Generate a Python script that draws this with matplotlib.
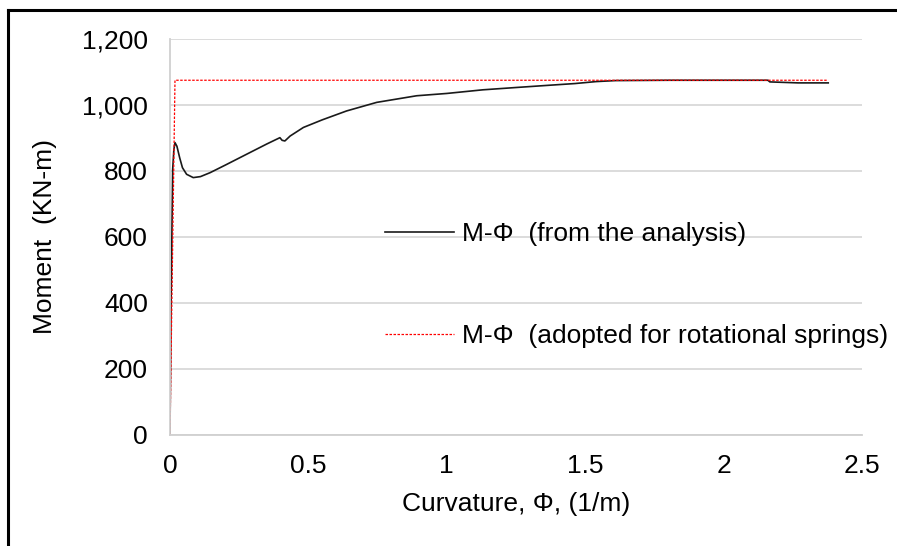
import matplotlib.pyplot as plt
from matplotlib.lines import Line2D
from matplotlib.ticker import FuncFormatter

plt.rcParams['font.family'] = ['Liberation Sans', 'DejaVu Sans']

# M-phi from the analysis
phi = [0, 0.0036, 0.0097, 0.014, 0.018, 0.025, 0.035, 0.045, 0.06, 0.084, 0.11, 0.145,
       0.2, 0.289, 0.35, 0.397, 0.405, 0.415, 0.434, 0.482, 0.55, 0.638, 0.747, 0.891,
       1.0, 1.13, 1.25, 1.373, 1.463, 1.54, 1.61, 1.8, 2.0, 2.16, 2.167, 2.27, 2.378]
moment = [0, 380, 805, 865, 886, 875, 840, 810, 790, 780, 783, 795,
          818, 856, 882, 901, 893, 891, 906, 932, 955, 982, 1008, 1028,
          1035, 1046, 1053, 1060, 1065, 1071, 1074, 1075, 1075, 1075, 1070, 1067, 1067]

# M-phi adopted for rotational springs
phi_sp = [0, 0.018, 2.378]
moment_sp = [0, 1075, 1075]

labels = ['M-Φ  (from the analysis)', 'M-Φ  (adopted for rotational springs)']

fs = 19

fig = plt.figure(figsize=(8.97, 5.46), dpi=100)
ax = fig.add_axes([170/897, 111/546, 692/897, 396/546])

ax.plot(phi, moment, color='#1a1a1a', lw=1.2)
ax.plot(phi_sp, moment_sp, color='red', lw=0.9, dashes=(2, 1.2))

ax.set_xlim(0, 2.5)
ax.set_ylim(0, 1200)
ax.set_xticks([0, 0.5, 1, 1.5, 2, 2.5])
ax.set_xticklabels(['0', '0.5', '1', '1.5', '2', '2.5'])
ax.set_yticks(range(0, 1201, 200))
ax.yaxis.set_major_formatter(FuncFormatter(lambda v, p: f'{int(v):,}'))
ax.tick_params(length=0, labelsize=fs, colors='black')
ax.tick_params(axis='y', pad=16)
ax.tick_params(axis='x', pad=14)
ax.grid(axis='y', color='#d9d9d9', lw=1.3)
ax.set_axisbelow(True)
for s in ['top', 'right']:
    ax.spines[s].set_visible(False)
ax.spines['left'].set_color('#d0d0d0')
ax.spines['bottom'].set_color('#d0d0d0')
ax.spines['left'].set_linewidth(1.3)
ax.spines['bottom'].set_linewidth(1.3)

ax.set_xlabel('Curvature, Φ, (1/m)', fontsize=fs, labelpad=10)
ax.set_ylabel('Moment  (KN-m)', fontsize=fs, labelpad=18)

handles = [Line2D([], [], color='#1a1a1a', lw=1.2),
           Line2D([], [], color='red', lw=0.9, dashes=(2, 1.2))]
leg = ax.legend(handles, labels, loc='upper left', bbox_to_anchor=(385/897, 324/546),
                bbox_transform=fig.transFigure, frameon=False, fontsize=fs,
                handlelength=2.6, handletextpad=0.3, labelspacing=2.95, borderpad=0,
                borderaxespad=0)

# screenshot border (top and left)
fig.add_artist(Line2D([8/897, 1], [536/546, 536/546], transform=fig.transFigure, color='black', lw=2.2))
fig.add_artist(Line2D([8/897, 8/897], [0, 536/546], transform=fig.transFigure, color='black', lw=2.2))

fig.savefig('out.png', dpi=100)
